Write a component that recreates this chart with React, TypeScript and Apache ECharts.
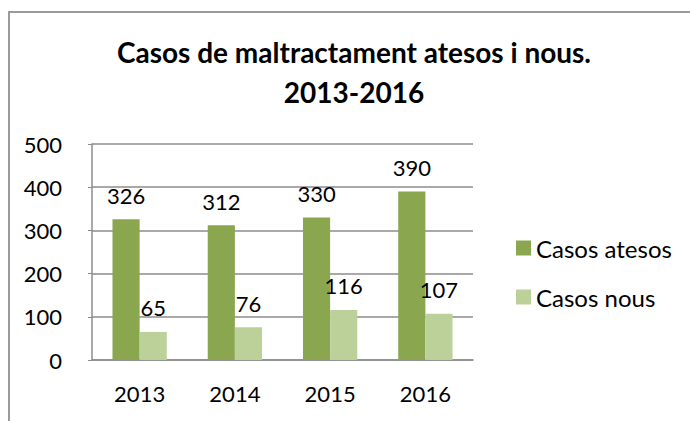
import React, { useEffect, useRef } from "react";
import * as echarts from "echarts";

const categories = ["2013", "2014", "2015", "2016"];
const casosAtesos = [326, 312, 330, 390];
const casosNous = [65, 76, 116, 107];
const seriesNames = ["Casos atesos", "Casos nous"];
const titleText = "Casos de maltractament atesos i nous.\n2013-2016";

const FONT = "Lato, 'Open Sans', sans-serif";

export default function App() {
  const ref = useRef<HTMLDivElement>(null);
  useEffect(() => {
    if (!ref.current) return;
    const chart = echarts.init(ref.current, null, { renderer: "svg" });
    const labelStyle = {
      show: true,
      position: "top" as const,
      distance: 13,
      color: "#000",
      fontSize: 22,
      fontFamily: FONT,
    };
    chart.setOption({
      animation: false,
      backgroundColor: "#fff",
      textStyle: { fontFamily: FONT },
      title: {
        text: titleText,
        left: 349,
        top: 27,
        textAlign: "center",
        textStyle: {
          fontFamily: FONT,
          fontWeight: "bold",
          fontSize: 28,
          lineHeight: 40,
          color: "#000",
        },
      },
      graphic: [
        {
          type: "rect",
          shape: { x: 9, y: 12, width: 720, height: 440 },
          style: { fill: "none", stroke: "#9a9a9a", lineWidth: 2 },
          silent: true,
        },
      ],
      legend: {
        orient: "vertical",
        left: 511,
        top: 231,
        itemWidth: 15,
        itemHeight: 15,
        itemGap: 25,
        icon: "rect",
        textStyle: { fontFamily: FONT, fontSize: 24, color: "#000" },
        data: seriesNames,
      },
      grid: { left: 92, right: 217, top: 144, bottom: 61, containLabel: false },
      xAxis: {
        type: "category",
        data: categories,
        axisLine: { show: true, lineStyle: { color: "#8c8c8c", width: 1.5 } },
        axisTick: { show: false },
        axisLabel: { color: "#000", fontSize: 22, fontFamily: FONT, margin: 22 },
      },
      yAxis: {
        type: "value",
        min: 0,
        max: 500,
        interval: 100,
        axisLine: { show: true, lineStyle: { color: "#8c8c8c", width: 1.5 } },
        axisTick: { show: true, length: 4, lineStyle: { color: "#8c8c8c" } },
        axisLabel: { color: "#000", fontSize: 22, fontFamily: FONT, margin: 30 },
        splitLine: { show: true, lineStyle: { color: "#8c8c8c", width: 1.5 } },
      },
      series: [
        {
          name: seriesNames[0],
          type: "bar",
          data: casosAtesos,
          itemStyle: { color: "#8aa64f" },
          barGap: "0%",
          barCategoryGap: "43%",
          label: labelStyle,
        },
        {
          name: seriesNames[1],
          type: "bar",
          data: casosNous,
          itemStyle: { color: "#bcd199" },
          label: labelStyle,
        },
      ],
    });
    return () => chart.dispose();
  }, []);
  return (
    <div
      ref={ref}
      style={{ position: "fixed", left: 0, top: 0, width: 690, height: 421 }}
    />
  );
}
